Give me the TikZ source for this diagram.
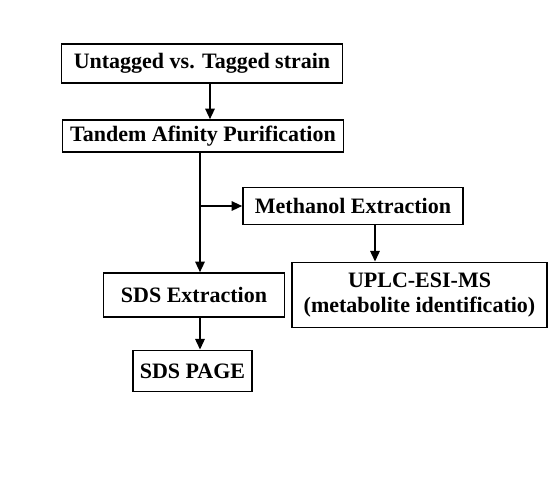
\documentclass[tikz,border=0pt]{standalone}
\usepackage{fontspec}
\setmainfont{Liberation Serif}
\usetikzlibrary{positioning,arrows.meta,calc}

\begin{document}
\begin{tikzpicture}[
  x=0.75pt, y=-0.75pt,
  font=\bfseries\fontsize{16.5}{19}\selectfont,
  line/.style={-{Triangle[length=8pt,width=7pt]}, line width=1.5pt, draw=black},
  box/.style={draw=black, line width=1.1pt, align=center, inner sep=2pt}
]
\useasboundingbox (0,0) rectangle (552,480);

% ========== Main column ==========
\node[box, minimum width=211pt, minimum height=29pt] (strain) at (202,63.5) {Untagged vs. Tagged strain};
\node[box, minimum width=211pt, minimum height=24pt] (tap) at (203,136) {Tandem Afinity Purification};

% ========== Branches ==========
\node[box, minimum width=165pt, minimum height=28pt] (meoh) at (353,206) {Methanol Extraction};
\node[box, minimum width=191pt, minimum height=49pt] (uplc) at (419.5,295) {UPLC-ESI-MS\\(metabolite identificatio)};
\node[box, minimum width=136pt, minimum height=33pt] (sdsx) at (194,295) {SDS Extraction};
\node[box, minimum width=89pt, minimum height=31pt] (page) at (192.5,371) {SDS PAGE};

% arrow start points
\coordinate (s1) at ($(strain.south)+(8,0)$);
\coordinate (fork) at ($(sdsx.north)+(6,0)$);
\coordinate (m1) at ($(meoh.south)+(22,0)$);
\coordinate (x1) at ($(sdsx.south)+(6,0)$);

% ========== Arrows ==========
\draw[line] (s1) -- (s1 |- tap.north);
\draw[line] (tap.south -| fork) -- (fork);
\draw[line] (meoh.west -| fork) -- (meoh.west);
\draw[line] (m1) -- (m1 |- uplc.north);
\draw[line] (x1) -- (x1 |- page.north);

\end{tikzpicture}
\end{document}
